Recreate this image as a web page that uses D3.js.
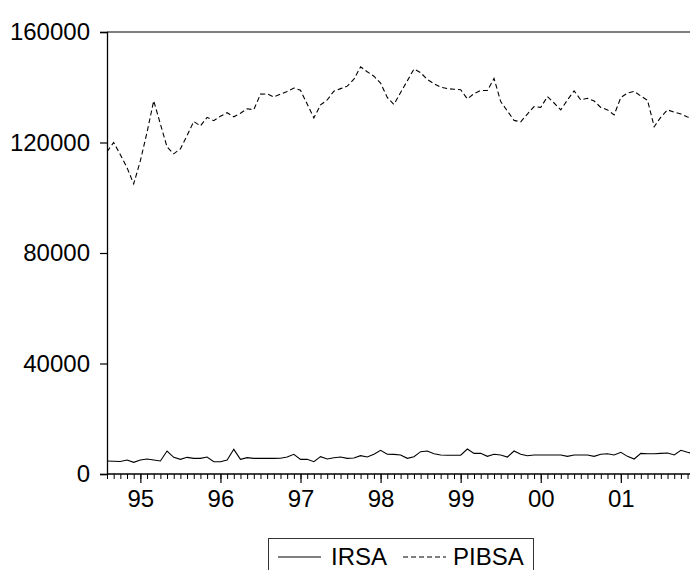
<!DOCTYPE html>
<html>
<head>
<meta charset="utf-8">
<script src="https://cdn.jsdelivr.net/npm/d3@7"></script>
<style>
  html, body { margin: 0; padding: 0; background: #fff; }
  svg { display: block; }
  text { font-family: "Liberation Sans", Arial, sans-serif; fill: #000; }
</style>
</head>
<body>
<svg id="chart" width="690" height="570"></svg>
<script>
// Monthly observations, August 1994 to December 2001
const firstMonth = new Date(1994, 7, 1);
const lastMonth = new Date(2001, 11, 1);
const months = d3.timeMonth.range(firstMonth, d3.timeMonth.offset(lastMonth, 1));

const irsa = [
  4700, 4600, 4500, 5070, 4220, 5070, 5430, 5070, 4700, 8330,
  6030, 5310, 6030, 5670, 5670, 6150, 4450, 4450, 5070, 8930,
  5310, 5910, 5670, 5700, 5650, 5670, 5700, 6150, 7130, 5310,
  5310, 4450, 6270, 5430, 5910, 6150, 5670, 5800, 6630, 6150,
  7130, 8570, 7130, 7100, 6880, 5670, 6270, 8080, 8330, 7350,
  6880, 6800, 6800, 6800, 9050, 7480, 7480, 6390, 7130, 6880,
  6150, 8330, 7130, 6630, 6880, 6880, 6880, 6880, 6880, 6390,
  6880, 6880, 6880, 6390, 7130, 7350, 6880, 7850, 6390, 5430,
  7480, 7350, 7350, 7480, 7600, 6880, 8570, 7850, 7300
];

const pibsa = [
  116700, 120000, 115600, 110900, 105000, 113400, 123700, 135100, 126700, 118400,
  115900, 117700, 122500, 127600, 126000, 129100, 127900, 129500, 130800, 129300,
  130600, 132200, 131900, 137500, 137600, 136500, 137500, 138500, 139700, 138900,
  133900, 128900, 133600, 135400, 138600, 139500, 140400, 142900, 147400, 145600,
  144000, 141500, 136300, 133800, 138100, 142300, 146600, 145300, 142800, 141300,
  140000, 139500, 139300, 139100, 135800, 137700, 138800, 138800, 143200, 134800,
  131400, 128000, 127500, 130300, 133000, 132700, 136600, 134300, 131800, 135400,
  138700, 135400, 136000, 135000, 132700, 131800, 130000, 136300, 137900, 138500,
  136800, 135300, 125700, 129200, 131800, 131000, 130300, 129200, 128800
];

const yTicks = [0, 40000, 80000, 120000, 160000];
const yearLabels = ["95", "96", "97", "98", "99", "00", "01"];
const seriesNames = ["IRSA", "PIBSA"];

const svg = d3.select("#chart");
const margin = { left: 107, top: 32, bottom: 474 };
const monthStep = 6.673;
const plotRight = margin.left + monthStep * (months.length - 1);

// Observations sit on an evenly spaced monthly grid
const x = d3.scaleLinear().domain([0, months.length - 1]).range([margin.left, plotRight]);
const y = d3.scaleLinear().domain([0, 160000]).range([margin.bottom, margin.top]);

svg.append("defs").append("clipPath").attr("id", "plot-clip")
  .append("rect")
  .attr("x", margin.left).attr("y", margin.top - 2)
  .attr("width", plotRight - margin.left + 2).attr("height", margin.bottom - margin.top + 4);

// Frame top edge
svg.append("line")
  .attr("x1", margin.left).attr("x2", plotRight)
  .attr("y1", margin.top).attr("y2", margin.top)
  .attr("stroke", "#555").attr("stroke-width", 1.4);

// Left axis
const yAxis = d3.axisLeft(y).tickValues(yTicks).tickSize(7).tickPadding(10).tickFormat(d3.format("d"));
const gy = svg.append("g").attr("transform", `translate(${margin.left},0)`).call(yAxis);
gy.select(".domain").attr("stroke", "#000").attr("stroke-width", 1.3);
gy.selectAll(".tick line").attr("stroke", "#000").attr("stroke-width", 1.2);
gy.selectAll(".tick text").style("font-size", "24px").attr("fill", "#000");

// Monthly minor ticks
const monthIdx = d3.range(months.length);
const xMinor = d3.axisBottom(x).tickValues(monthIdx).tickSize(5).tickFormat("");
const gxm = svg.append("g").attr("transform", `translate(0,${margin.bottom})`).call(xMinor);
gxm.select(".domain").remove();
gxm.selectAll(".tick line").attr("stroke", "#000").attr("stroke-width", 1);

// Year ticks at each January, labelled with the two-digit year
const janIdx = monthIdx.filter(i => months[i].getMonth() === 0);
const xMajor = d3.axisBottom(x).tickValues(janIdx).tickSize(9).tickPadding(7)
  .tickFormat((d, i) => yearLabels[i]);
const gx = svg.append("g").attr("transform", `translate(0,${margin.bottom})`).call(xMajor);
gx.select(".domain").attr("stroke", "#000").attr("stroke-width", 1.3)
  .attr("d", `M${margin.left},0H${plotRight}`);
gx.selectAll(".tick line").attr("stroke", "#000").attr("stroke-width", 1.2);
gx.selectAll(".tick text").style("font-size", "24px").attr("fill", "#000");

// Series lines
const line = d3.line().x((d, i) => x(i)).y(d => y(d));
const plot = svg.append("g").attr("clip-path", "url(#plot-clip)");
plot.append("path").datum(irsa)
  .attr("d", line).attr("fill", "none").attr("stroke", "#000").attr("stroke-width", 1.1);
plot.append("path").datum(pibsa)
  .attr("d", line).attr("fill", "none").attr("stroke", "#000").attr("stroke-width", 1.1)
  .attr("stroke-dasharray", "5,3");

// Legend
const legend = svg.append("g");
legend.append("rect")
  .attr("x", 268.5).attr("y", 538.5).attr("width", 265).attr("height", 45)
  .attr("fill", "#fff").attr("stroke", "#333").attr("stroke-width", 1);
const legendItems = [
  { name: seriesNames[0], x0: 278, dash: null, tx: 331 },
  { name: seriesNames[1], x0: 403, dash: "5,3", tx: 453 }
];
legendItems.forEach(it => {
  legend.append("line")
    .attr("x1", it.x0).attr("x2", it.x0 + 43).attr("y1", 557).attr("y2", 557)
    .attr("stroke", "#000").attr("stroke-width", 1.1)
    .attr("stroke-dasharray", it.dash);
  legend.append("text")
    .attr("x", it.tx).attr("y", 565)
    .style("font-size", "24px")
    .text(it.name);
});
</script>
</body>
</html>
